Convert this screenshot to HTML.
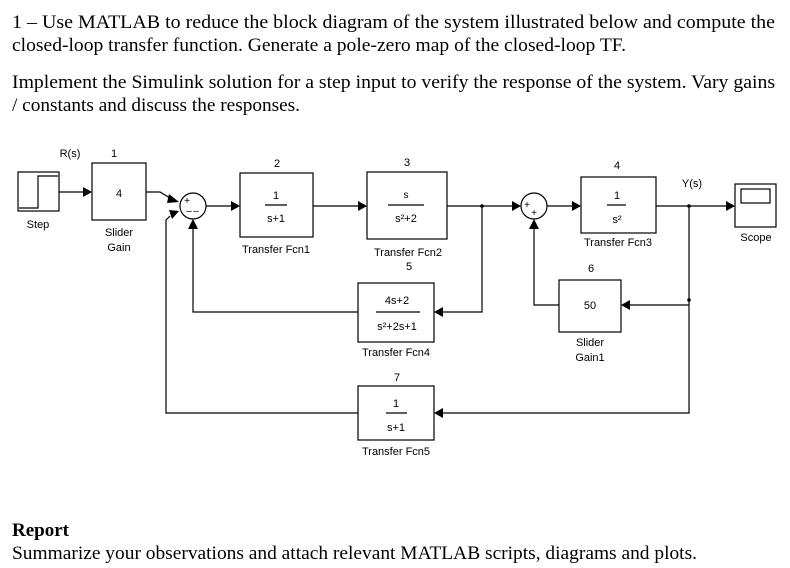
<!DOCTYPE html>
<html><head><meta charset="utf-8"><style>
html,body{margin:0;padding:0;background:#fff;}
svg{display:block;}
.t{font-family:"Liberation Serif",serif;font-size:19px;fill:#000;}
.s{font-family:"Liberation Sans",sans-serif;font-size:11px;fill:#000;}
</style></head><body>
<svg width="790" height="568" viewBox="0 0 790 568" xmlns="http://www.w3.org/2000/svg">
<text class="t" x="12" y="28" textLength="763" lengthAdjust="spacingAndGlyphs">1 – Use MATLAB to reduce the block diagram of the system illustrated below and compute the</text>
<text class="t" x="12" y="51" textLength="614" lengthAdjust="spacingAndGlyphs">closed-loop transfer function.  Generate a pole-zero map of the closed-loop TF.</text>
<text class="t" x="12" y="88" textLength="763" lengthAdjust="spacingAndGlyphs">Implement the Simulink solution for a step input to verify the response of the system.  Vary gains</text>
<text class="t" x="12" y="111" textLength="288" lengthAdjust="spacingAndGlyphs">/ constants and discuss the responses.</text>
<text class="t" x="12" y="536" font-weight="bold" textLength="57" lengthAdjust="spacingAndGlyphs">Report</text>
<text class="t" x="12" y="559" textLength="685" lengthAdjust="spacingAndGlyphs">Summarize your observations and attach relevant MATLAB scripts, diagrams and plots.</text>

<g stroke="#000" stroke-width="1.2" fill="none">
<!-- step -->
<rect x="18" y="172" width="41" height="39"/>
<polyline points="19,208 38,208 38,176 58,176"/>
<!-- gain -->
<rect x="92" y="163" width="54" height="57"/>
<!-- sum1 -->
<circle cx="193" cy="206" r="13"/>
<!-- tf1 -->
<rect x="240" y="173" width="73" height="64"/>
<line x1="265" y1="205" x2="287" y2="205"/>
<!-- tf2 -->
<rect x="367" y="172" width="80" height="67"/>
<line x1="388" y1="205" x2="424" y2="205"/>
<!-- sum2 -->
<circle cx="534" cy="206" r="13"/>
<!-- tf3 -->
<rect x="581" y="177" width="75" height="56"/>
<line x1="607" y1="205" x2="626" y2="205"/>
<!-- scope -->
<rect x="735" y="184" width="41" height="43"/>
<rect x="741" y="189" width="29" height="14"/>
<!-- tf4 -->
<rect x="358" y="283" width="76" height="59"/>
<line x1="376" y1="312" x2="420" y2="312"/>
<!-- gain6 -->
<rect x="559" y="280" width="62" height="52"/>
<!-- tf5 -->
<rect x="358" y="386" width="76" height="54"/>
<line x1="386" y1="413" x2="407" y2="413"/>
<!-- lines -->
<line x1="59" y1="192" x2="84" y2="192"/>
<polyline points="146,192 160,192 170,198"/>
<line x1="206" y1="206" x2="232" y2="206"/>
<line x1="313" y1="206" x2="359" y2="206"/>
<line x1="447" y1="206" x2="514" y2="206"/>
<line x1="547" y1="206" x2="573" y2="206"/>
<line x1="656" y1="206" x2="727" y2="206"/>
<polyline points="482,206 482,312 442,312"/>
<polyline points="358,312 193,312 193,228"/>
<polyline points="689,206 689,413 442,413"/>
<line x1="689" y1="305" x2="629" y2="305"/>
<polyline points="559,305 534,305 534,228"/>
<polyline points="358,413 166,413 166,220 170,216"/>
</g>
<g fill="#000">
<circle cx="482" cy="206" r="1.8"/><circle cx="689" cy="206" r="1.8"/><circle cx="689" cy="300" r="1.8"/>
<polygon points="92,192 83,187 83,197"/>
<polygon points="179,202 169,194 167,203"/>
<polygon points="179,211 169,210 172,219"/>
<polygon points="193,219 188,229 198,229"/>
<polygon points="240,206 231,201 231,211"/>
<polygon points="367,206 358,201 358,211"/>
<polygon points="521,206 512,201 512,211"/>
<polygon points="581,206 572,201 572,211"/>
<polygon points="735,206 726,201 726,211"/>
<polygon points="534,219 529,229 539,229"/>
<polygon points="434,312 443,307 443,317"/>
<polygon points="621,305 630,300 630,310"/>
<polygon points="434,413 443,408 443,418"/>
</g>
<g class="s" text-anchor="middle">
<text x="70" y="157">R(s)</text><text x="114" y="157">1</text>
<text x="119" y="197">4</text>
<text x="38" y="228">Step</text>
<text x="119" y="236">Slider</text><text x="119" y="251">Gain</text>
<text x="187" y="204" font-size="10">+</text><text x="189" y="214" font-size="10">–</text><text x="196" y="214" font-size="10">–</text>
<text x="277" y="167">2</text>
<text x="276" y="199">1</text><text x="276" y="222">s+1</text>
<text x="276" y="253">Transfer Fcn1</text>
<text x="407" y="166">3</text>
<text x="406" y="198" font-size="10">s</text><text x="406" y="222">s²+2</text>
<text x="408" y="256">Transfer Fcn2</text>
<text x="409" y="270">5</text>
<text x="527" y="208" font-size="10">+</text><text x="534" y="216" font-size="10">+</text>
<text x="617" y="169">4</text>
<text x="617" y="199">1</text><text x="617" y="223">s²</text>
<text x="618" y="246">Transfer Fcn3</text>
<text x="692" y="187">Y(s)</text>
<text x="756" y="241">Scope</text>
<text x="397" y="304">4s+2</text><text x="397" y="330">s²+2s+1</text>
<text x="396" y="356">Transfer Fcn4</text>
<text x="591" y="272">6</text>
<text x="590" y="309">50</text>
<text x="590" y="346">Slider</text><text x="590" y="361">Gain1</text>
<text x="397" y="381">7</text>
<text x="396" y="407">1</text><text x="396" y="431">s+1</text>
<text x="396" y="455">Transfer Fcn5</text>
</g>
</svg>
</body></html>
